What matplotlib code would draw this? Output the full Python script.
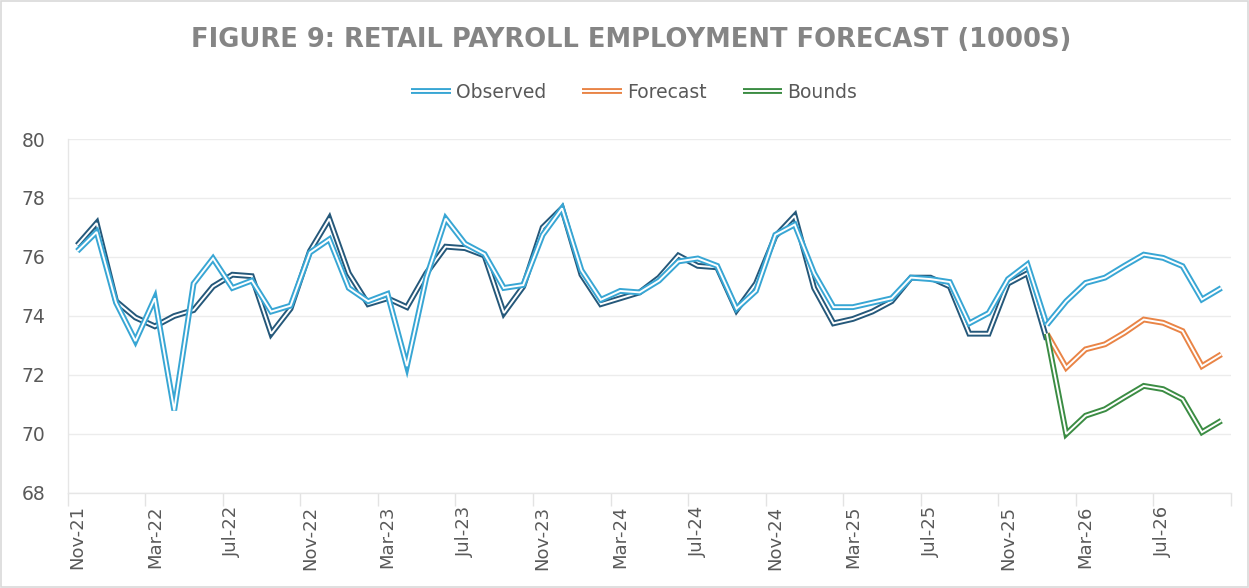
import matplotlib
matplotlib.use("Agg")
import matplotlib.pyplot as plt
import matplotlib.patheffects as pe
from matplotlib.patches import Rectangle
import numpy as np
import pandas as pd

# ---- data -------------------------------------------------------------
months = list(pd.date_range("2021-11-01", "2026-10-01", freq="MS").strftime("%b-%y"))
tick_labels = ["Nov-21", "Mar-22", "Jul-22", "Nov-22", "Mar-23", "Jul-23", "Nov-23",
               "Mar-24", "Jul-24", "Nov-24", "Mar-25", "Jul-25", "Nov-25", "Mar-26", "Jul-26"]

# fitted (dark) series, Nov-21 .. Jan-26
fitted = [76.4, 77.15, 74.5, 73.95, 73.65, 74.0, 74.2, 75.0, 75.4, 75.35,
          73.4, 74.25, 76.2, 77.3, 75.45, 74.4, 74.6, 74.3, 75.45, 76.35,
          76.3, 76.05, 74.1, 75.0, 77.0, 77.65, 75.4, 74.4, 74.6, 74.8,
          75.3, 76.05, 75.7, 75.65, 74.2, 75.1, 76.7, 77.4, 74.95, 73.75,
          73.9, 74.15, 74.5, 75.3, 75.3, 75.0, 73.4, 73.4, 75.1, 75.45,
          73.2]
# observed series, Nov-21 .. Jan-26
observed = [76.2, 76.85, 74.45, 73.15, 74.6, 70.8, 75.1, 75.95, 74.95, 75.2,
            74.15, 74.35, 76.15, 76.6, 74.95, 74.5, 74.75, 72.3, 75.3, 77.3,
            76.45, 76.1, 74.95, 75.05, 76.75, 77.65, 75.55, 74.55, 74.85, 74.8,
            75.2, 75.85, 75.95, 75.7, 74.25, 74.85, 76.75, 77.1, 75.45, 74.3,
            74.3, 74.45, 74.6, 75.3, 75.25, 75.15, 73.75, 74.1, 75.25, 75.75,
            73.7]
# forecast period Jan-26 .. Oct-26
forecast_start = 50
forecast = [73.4, 72.25, 72.87, 73.04, 73.43, 73.88, 73.77, 73.49, 72.3, 72.7]
upper_bound = [73.7, 74.5, 75.12, 75.3, 75.7, 76.08, 75.97, 75.69, 74.56, 74.95]
lower_bound = [73.4, 70.0, 70.62, 70.84, 71.24, 71.63, 71.52, 71.18, 70.06, 70.45]

# ---- style ------------------------------------------------------------
LIGHT = "#38a6d4"
DARK = "#25587a"
ORANGE = "#e98446"
GREEN = "#3b8c43"
GRAY_TXT = "#595959"

fig = plt.figure(figsize=(12.49, 5.88), dpi=100)
ax = fig.add_axes([0.0541, 0.1616, 0.9315, 0.602])


def dline(x, y, color, label=None, z=2):
    return ax.plot(x, y, color="white", lw=1.4, label=label, zorder=z,
                   solid_joinstyle="miter", solid_capstyle="butt",
                   path_effects=[pe.Stroke(linewidth=4.2, foreground=color,
                                           joinstyle="miter", capstyle="butt"),
                                 pe.Normal()])[0]


x_obs = np.arange(len(observed))
x_fc = np.arange(forecast_start, forecast_start + len(forecast))

dline(x_obs, fitted, DARK, None, z=2)
h_obs = dline(x_obs, observed, LIGHT, "Observed", z=3)
dline(x_fc, upper_bound, LIGHT, None, z=3)
h_fc = dline(x_fc, forecast, ORANGE, "Forecast", z=4)
h_bd = dline(x_fc, lower_bound, GREEN, "Bounds", z=4)

ax.set_xlim(-0.5, len(months) - 0.5)
ax.set_ylim(68, 80)
ax.set_yticks(np.arange(68, 81, 2))
ax.grid(axis="y", color="#ececec", lw=1.0)
ax.set_axisbelow(True)

tick_pos = [months.index(t) for t in tick_labels]
ax.set_xticks(tick_pos)
ax.set_xticklabels(tick_labels, rotation=90, fontsize=13, color=GRAY_TXT)
ax.set_xticks(np.arange(-0.5, len(months), 4), minor=True)
ax.tick_params(axis="x", which="major", length=0, pad=9)
ax.tick_params(axis="x", which="minor", length=9, color="#e3e3e3", width=1)
ax.tick_params(axis="y", length=0, pad=16, labelsize=13.5, labelcolor=GRAY_TXT)

for s in ["top", "right"]:
    ax.spines[s].set_visible(False)
for s in ["left", "bottom"]:
    ax.spines[s].set_color("#e6e6e6")
    ax.spines[s].set_linewidth(1.0)

fig.text(0.505, 0.932, "FIGURE 9: RETAIL PAYROLL EMPLOYMENT FORECAST (1000S)",
         ha="center", va="center", fontsize=18.5, fontweight="bold", color="#858585")

leg = fig.legend(handles=[h_obs, h_fc, h_bd], loc="center", bbox_to_anchor=(0.508, 0.843),
                 ncol=3, frameon=False, fontsize=13.5, handlelength=2.1, handletextpad=0.3,
                 columnspacing=1.9)
for t in leg.get_texts():
    t.set_color(GRAY_TXT)

fig.patches.append(Rectangle((0.001, 0.001), 0.998, 0.998, transform=fig.transFigure,
                             fill=False, edgecolor="#d9d9d9", lw=1.2))

fig.savefig("out.png", dpi=100)
